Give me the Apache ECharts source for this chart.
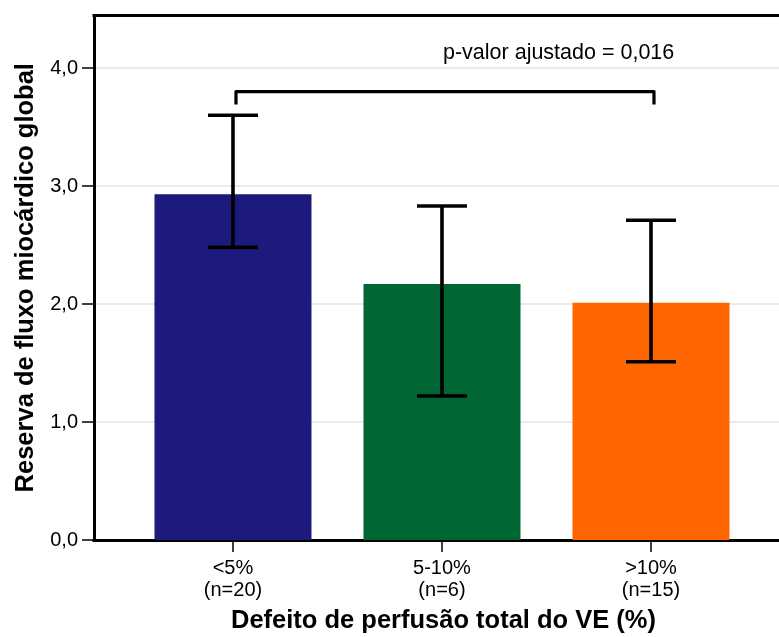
<!DOCTYPE html>
<html>
<head>
<meta charset="utf-8">
<script src="https://cdn.jsdelivr.net/npm/echarts@6/dist/echarts.min.js"></script>
<style>
  html, body { margin: 0; padding: 0; background: #ffffff; }
  #chart { width: 779px; height: 637px; }
</style>
</head>
<body>
<div id="chart"></div>
<script>
// Groups of total LV perfusion defect
const categories = ['<5%\n(n=20)', '5-10%\n(n=6)', '>10%\n(n=15)'];
// Mean global myocardial flow reserve per group
const means = [2.93, 2.17, 2.01];
// Error bar limits
const errLower = [2.48, 1.22, 1.51];
const errUpper = [3.60, 2.83, 2.71];
const barColors = ['#1C1A7C', '#006633', '#FF6600'];
// Y axis tick values
const yTicks = [0, 1, 2, 3, 4];
// Significance bracket between first and last group
const bracketGroups = [0, 2];
const bracketLevels = [3.69, 3.80]; // foot, top
const pText = 'p-valor ajustado = 0,016';

const FONT = '"Liberation Sans", Arial, sans-serif';
const X_MIN = -0.665;
const X_MAX = X_MIN + 685 / 209;
const Y_MAX = 4.445;

const fmt = v => v.toFixed(1).replace('.', ',');

const chart = echarts.init(document.getElementById('chart'), null, { renderer: 'canvas' });

const barData = means.map((m, i) => ({
  value: [i, m],
  itemStyle: { color: barColors[i] }
}));
const errData = means.map((m, i) => [i, errLower[i], errUpper[i]]);
const bracketData = [[bracketGroups[0], bracketGroups[1], bracketLevels[0], bracketLevels[1]]];

chart.setOption({
  animation: false,
  backgroundColor: '#ffffff',
  grid: { left: 94, right: 0, top: 15.5, bottom: 97, containLabel: false, outerBoundsMode: 'none' },
  xAxis: [{
    type: 'value',
    min: X_MIN,
    max: X_MAX,
    position: 'bottom',
    name: 'Defeito de perfusão total do VE (%)',
    nameLocation: 'middle',
    nameGap: 68,
    nameTextStyle: { fontFamily: FONT, fontWeight: 'bold', fontSize: 25.5, color: '#000', padding: [0, 0, 0, 14] },
    axisLine: { show: true, onZero: false, lineStyle: { color: '#000', width: 3, cap: 'square' } },
    axisTick: { show: true, customValues: categories.map((c, i) => i), length: 12, lineStyle: { color: '#000', width: 1.5 } },
    axisLabel: {
      show: true,
      customValues: categories.map((c, i) => i),
      formatter: v => categories[Math.round(v)],
      fontFamily: FONT, fontSize: 20, color: '#000', lineHeight: 22, margin: 17
    },
    splitLine: { show: false }
  }, {
    type: 'value',
    min: X_MIN,
    max: X_MAX,
    position: 'top',
    axisLine: { show: true, onZero: false, lineStyle: { color: '#000', width: 3, cap: 'square' } },
    axisTick: { show: false },
    axisLabel: { show: false },
    splitLine: { show: false }
  }],
  yAxis: {
    type: 'value',
    min: 0,
    max: Y_MAX,
    interval: 1,
    name: 'Reserva de fluxo miocárdico global',
    nameLocation: 'middle',
    nameGap: 53,
    nameTextStyle: { fontFamily: FONT, fontWeight: 'bold', fontSize: 25.5, color: '#000' },
    axisLine: { show: true, onZero: false, lineStyle: { color: '#000', width: 3, cap: 'square' } },
    axisTick: { show: true, customValues: yTicks, length: 12, lineStyle: { color: '#000', width: 1.5 } },
    axisLabel: {
      customValues: yTicks,
      formatter: fmt,
      fontFamily: FONT, fontSize: 20, color: '#000', margin: 16
    },
    splitLine: { show: true, lineStyle: { color: '#e3e3e3', width: 1.5 } }
  },
  series: [{
    type: 'bar',
    xAxisIndex: 0,
    data: barData,
    barWidth: 157,
    z: 2
  }, {
    type: 'custom',
    xAxisIndex: 0,
    data: errData,
    z: 5,
    renderItem: (params, api) => {
      const x = api.value(0);
      const lo = api.coord([x, api.value(1)]);
      const hi = api.coord([x, api.value(2)]);
      const half = 25;
      const style = { stroke: '#000', lineWidth: 3.6 };
      return {
        type: 'group',
        children: [
          { type: 'line', shape: { x1: hi[0], y1: hi[1], x2: lo[0], y2: lo[1] }, style },
          { type: 'line', shape: { x1: hi[0] - half, y1: hi[1], x2: hi[0] + half, y2: hi[1] }, style },
          { type: 'line', shape: { x1: lo[0] - half, y1: lo[1], x2: lo[0] + half, y2: lo[1] }, style }
        ]
      };
    }
  }, {
    type: 'custom',
    xAxisIndex: 0,
    data: bracketData,
    z: 6,
    renderItem: (params, api) => {
      const a = api.value(0), b = api.value(1), foot = api.value(2), top = api.value(3);
      const shift = 3;
      const p1 = api.coord([a, foot]), p2 = api.coord([a, top]);
      const p3 = api.coord([b, top]), p4 = api.coord([b, foot]);
      const pts = [[p1[0] + shift, p1[1]], [p2[0] + shift, p2[1]], [p3[0] + shift, p3[1]], [p4[0] + shift, p4[1]]];
      const mid = (pts[1][0] + pts[2][0]) / 2;
      return {
        type: 'group',
        children: [
          {
            type: 'polyline',
            shape: { points: pts },
            style: { stroke: '#000', lineWidth: 3.2, fill: null, lineJoin: 'round' }
          },
          {
            type: 'text',
            x: mid - 2,
            y: pts[1][1] - 39,
            style: {
              text: pText,
              fontFamily: FONT, fontSize: 21.5, fill: '#000',
              align: 'left', verticalAlign: 'middle'
            }
          }
        ]
      };
    }
  }]
});
</script>
</body>
</html>
